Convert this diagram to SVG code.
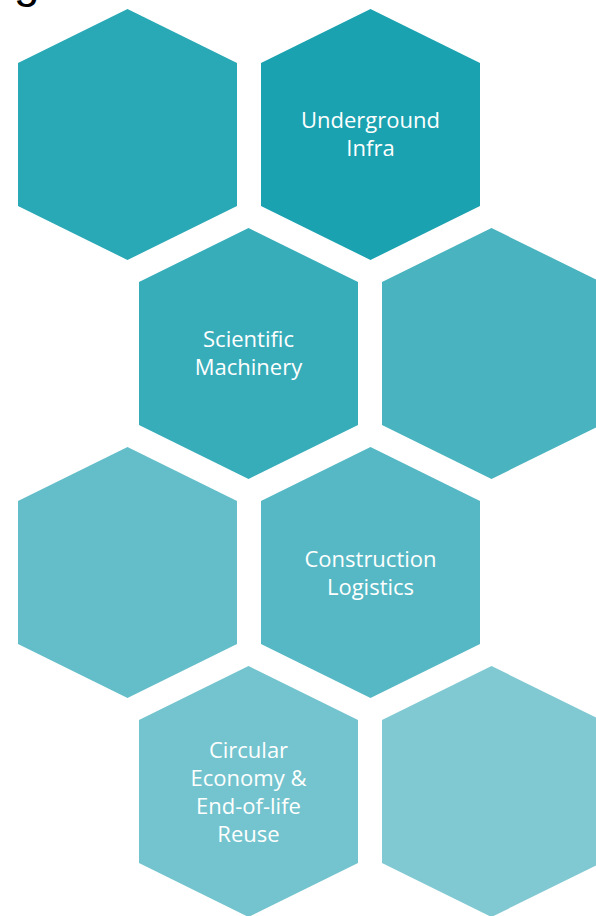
<svg xmlns="http://www.w3.org/2000/svg" width="596" height="916" viewBox="0 0 596 916">
  <defs>
    <!-- flat-side-vertical hexagon, 219 wide x 251 tall, origin at top-left of its box -->
    <polygon id="hex" points="109.5,0 219,54 219,197 109.5,251 0,197 0,54"/>
  </defs>
  <style>
    .lbl { font-family: "Open Sans", Lato, "Liberation Sans", sans-serif; font-size: 22px; fill: #ffffff; text-anchor: middle; font-variant-ligatures: none; }
    .title { font-family: "Liberation Sans", Arial, sans-serif; font-size: 46px; fill: #000000; }
  </style>
  <rect width="596" height="916" fill="#ffffff"/>
  <text class="title" x="14" y="-3">g</text>

  <g id="hex-r1-c1"><use href="#hex" x="18" y="9" fill="#29A8B5"/></g>
  <g id="hex-underground">
    <use href="#hex" x="261" y="9" fill="#1BA2B0"/>
    <text class="lbl" x="370.5" y="128">Underground</text>
    <text class="lbl" x="370.5" y="156">Infra</text>
  </g>

  <g id="hex-scientific">
    <use href="#hex" x="139" y="228" fill="#38ADBA"/>
    <text class="lbl" x="248.5" y="347">Scientific</text>
    <text class="lbl" x="248.5" y="375">Machinery</text>
  </g>
  <g id="hex-r2-c2"><use href="#hex" x="382" y="228" fill="#49B3BF"/></g>

  <g id="hex-r3-c1"><use href="#hex" x="18" y="447" fill="#64BEC9"/></g>
  <g id="hex-construction">
    <use href="#hex" x="261" y="447" fill="#55B8C4"/>
    <text class="lbl" x="370.5" y="567">Construction</text>
    <text class="lbl" x="370.5" y="595">Logistics</text>
  </g>

  <g id="hex-circular">
    <use href="#hex" x="139" y="666" fill="#73C4CE"/>
    <text class="lbl" x="248.5" y="758">Circular</text>
    <text class="lbl" x="248.5" y="786">Economy &amp;</text>
    <text class="lbl" x="248.5" y="814">End-of-life</text>
    <text class="lbl" x="248.5" y="842">Reuse</text>
  </g>
  <g id="hex-r4-c2"><use href="#hex" x="382" y="666" fill="#81C9D2"/></g>

  <g id="connectors"/>
</svg>
